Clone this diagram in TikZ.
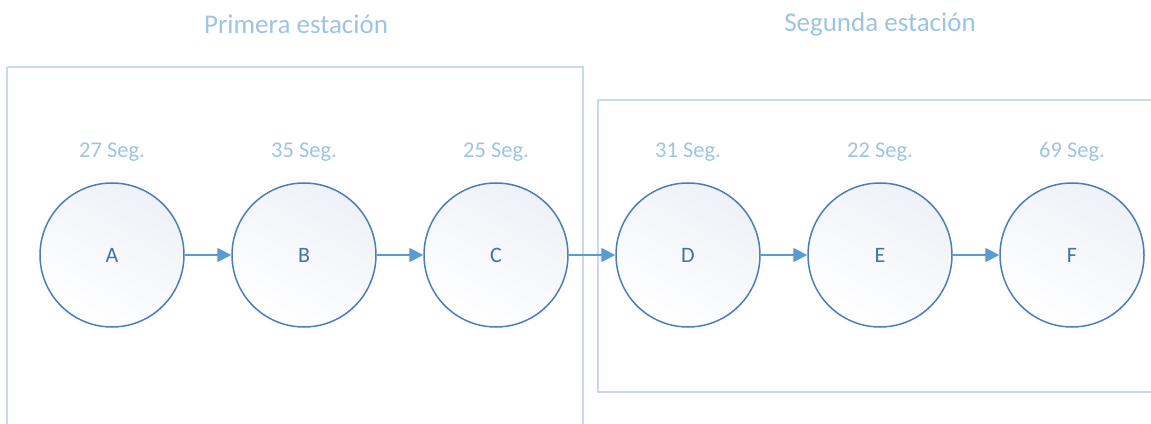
\documentclass[tikz,border=0pt]{standalone}
\usepackage{fontspec}
\setmainfont{Carlito}
\usetikzlibrary{arrows.meta,shadows}
\definecolor{circline}{HTML}{4A7EBB}
\definecolor{arrowc}{HTML}{5B9BD5}
\definecolor{lbl}{HTML}{9DC3E6}
\definecolor{boxline}{HTML}{C6D9F0}
\definecolor{fillA}{HTML}{EEF1F8}
\tikzset{
  stn/.style={circle, draw=circline, line width=1.5pt, minimum size=144pt, inner sep=0pt,
    top color=fillA, bottom color=white, shading angle=-30, font=\fontsize{22}{24}\selectfont, text=circline!90!black},
  tlbl/.style={text=lbl, font=\fontsize{22.5}{24}\selectfont},
  ttl/.style={text=lbl, font=\fontsize{27}{30}\selectfont},
  conn/.style={draw=arrowc, line width=2pt, -{Triangle[length=14pt,width=14pt]}},
  grp/.style={draw=boxline, line width=1.5pt}
}
\begin{document}
\begin{tikzpicture}[x=1pt,y=-1pt]
\useasboundingbox (0,0) rectangle (1151,423);
\draw[grp] (7,67) -- (583,67) -- (583,430);
\draw[grp] (7,67) -- (7,430);
\draw[grp] (1160,100) -- (598,100) -- (598,392) -- (1160,392);
\node[ttl] (t1) at (296,24) {Primera estación};
\node[ttl] (t2) at (880,24) {Segunda estación};
\foreach \n/\x/\s in {A/112/27,B/304/35,C/496/25,D/688/31,E/880/22,F/1072/69}{
  \node[stn] (\n) at (\x,255) {\n};
  \node[tlbl] (l\n) at (\x,152) {\s{} Seg.};
}
\draw[conn] (A) -- (B);
\draw[conn] (B) -- (C);
\draw[conn] (C) -- (D);
\draw[conn] (D) -- (E);
\draw[conn] (E) -- (F);
\end{tikzpicture}
\end{document}
